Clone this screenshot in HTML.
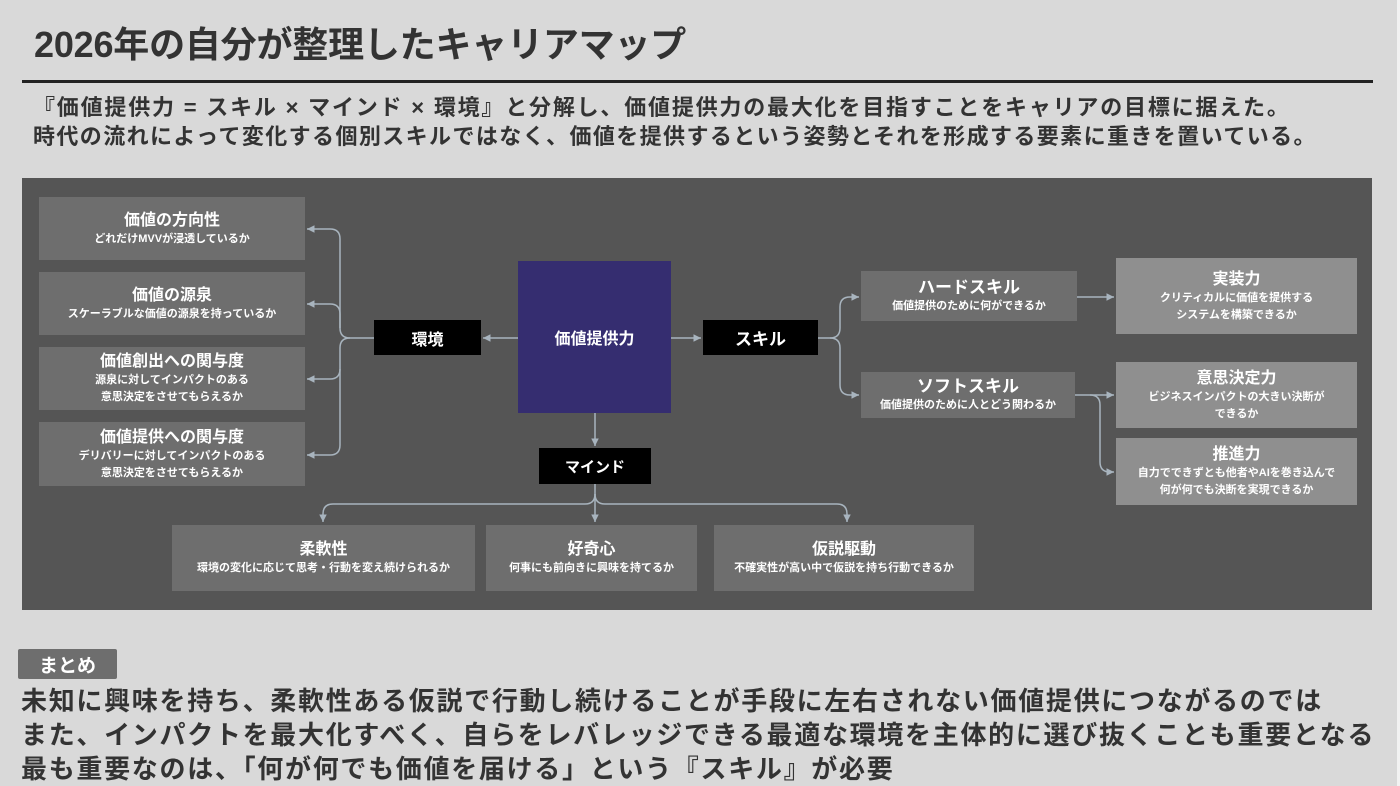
<!DOCTYPE html>
<html><head><meta charset="utf-8"><style>
*{margin:0;padding:0;box-sizing:border-box}
body{width:1400px;height:786px;background:#d9d9d9;position:relative;overflow:hidden;font-family:"Liberation Sans","Noto Sans CJK JP",sans-serif;color:#333;font-weight:bold}
.a{position:absolute}
.b{position:absolute;color:#fff;display:flex;flex-direction:column;align-items:center;justify-content:center;text-align:center;font-weight:bold}
.g{background:#6e6e6e}.l{background:#8f8f8f}.k{background:#000}
.t{font-size:16px;line-height:21px}.s{font-size:11px;line-height:17px}
</style></head><body>
<div class="a" style="left:1397px;top:0;width:3px;height:786px;background:#f2f2f2"></div>
<div class="a" style="left:34px;top:20px;font-size:36px;line-height:50px;letter-spacing:-0.2px">2026年の自分が整理したキャリアマップ</div>
<div class="a" style="left:22px;top:80px;width:1351px;height:3px;background:#222"></div>
<div class="a" style="left:33px;top:93px;font-size:22px;line-height:29px;white-space:nowrap;letter-spacing:1.8px">『価値提供力 = スキル × マインド × 環境』と分解し、価値提供力の最大化を目指すことをキャリアの目標に据えた。<br><span style="letter-spacing:1.4px">時代の流れによって変化する個別スキルではなく、価値を提供するという姿勢とそれを形成する要素に重きを置いている。</span></div>
<div class="a" style="left:22px;top:178px;width:1350px;height:432px;background:#555"></div>
<svg class="a" style="left:0;top:0" width="1400" height="786">
<defs><marker id="m" markerWidth="6" markerHeight="6" refX="5" refY="3" orient="auto"><path d="M0,0.5L5,3L0,5.5z" fill="#a8b4be"/></marker></defs>
<g stroke="#a8b4be" stroke-width="1.5" fill="none">
<path d="M374,338H350q-10,0 -10,-10V239q0,-10 -10,-10H307" marker-end="url(#m)"/>
<path d="M340,328V314q0,-10 -10,-10H307" marker-end="url(#m)"/>
<path d="M350,338q-10,0 -10,10V369q0,10 -10,10H307" marker-end="url(#m)"/>
<path d="M340,369V445q0,10 -10,10H307" marker-end="url(#m)"/>
<path d="M518,338H483" marker-end="url(#m)"/>
<path d="M671,338H701" marker-end="url(#m)"/>
<path d="M818,338H830q10,0 10,-10V307q0,-10 10,-10H859" marker-end="url(#m)"/>
<path d="M830,338q10,0 10,10V385q0,10 10,10H859" marker-end="url(#m)"/>
<path d="M1077,297H1114" marker-end="url(#m)"/>
<path d="M1075,395H1114" marker-end="url(#m)"/>
<path d="M1090,395q10,0 10,10V462q0,10 10,10H1114" marker-end="url(#m)"/>
<path d="M595,413V446" marker-end="url(#m)"/>
<path d="M595,484V522" marker-end="url(#m)"/>
<path d="M595,494q0,10 -10,10H333q-10,0 -10,10V522" marker-end="url(#m)"/>
<path d="M595,494q0,10 10,10H837q10,0 10,10V522" marker-end="url(#m)"/>
</g></svg>
<div class="b g" style="left:39px;top:197px;width:266px;height:63px"><div class="t">価値の方向性</div><div class="s">どれだけMVVが浸透しているか</div></div>
<div class="b g" style="left:39px;top:272px;width:266px;height:63px"><div class="t">価値の源泉</div><div class="s">スケーラブルな価値の源泉を持っているか</div></div>
<div class="b g" style="left:39px;top:347px;width:266px;height:63px"><div class="t">価値創出への関与度</div><div class="s">源泉に対してインパクトのある<br>意思決定をさせてもらえるか</div></div>
<div class="b g" style="left:39px;top:422px;width:266px;height:64px"><div class="t">価値提供への関与度</div><div class="s">デリバリーに対してインパクトのある<br>意思決定をさせてもらえるか</div></div>
<div class="b k" style="left:374px;top:320px;width:107px;height:35px;font-size:16px">環境</div>
<div class="b" style="left:518px;top:261px;width:153px;height:152px;background:#352d70;font-size:16px">価値提供力</div>
<div class="b k" style="left:703px;top:320px;width:115px;height:35px;font-size:17px">スキル</div>
<div class="b k" style="left:539px;top:448px;width:112px;height:36px;font-size:15px">マインド</div>
<div class="b g" style="left:861px;top:271px;width:216px;height:50px"><div class="t" style="font-size:17px">ハードスキル</div><div class="s">価値提供のために何ができるか</div></div>
<div class="b g" style="left:861px;top:372px;width:214px;height:46px"><div class="t" style="font-size:17px">ソフトスキル</div><div class="s">価値提供のために人とどう関わるか</div></div>
<div class="b l" style="left:1116px;top:258px;width:241px;height:76px"><div class="t">実装力</div><div class="s">クリティカルに価値を提供する<br>システムを構築できるか</div></div>
<div class="b l" style="left:1116px;top:362px;width:241px;height:66px"><div class="t">意思決定力</div><div class="s">ビジネスインパクトの大きい決断が<br>できるか</div></div>
<div class="b l" style="left:1116px;top:438px;width:241px;height:67px"><div class="t">推進力</div><div class="s">自力でできずとも他者やAIを巻き込んで<br>何が何でも決断を実現できるか</div></div>
<div class="b g" style="left:172px;top:525px;width:303px;height:66px"><div class="t">柔軟性</div><div class="s">環境の変化に応じて思考・行動を変え続けられるか</div></div>
<div class="b g" style="left:486px;top:525px;width:211px;height:66px"><div class="t">好奇心</div><div class="s">何事にも前向きに興味を持てるか</div></div>
<div class="b g" style="left:714px;top:525px;width:260px;height:66px"><div class="t">仮説駆動</div><div class="s">不確実性が高い中で仮説を持ち行動できるか</div></div>
<div class="b g" style="left:18px;top:649px;width:99px;height:30px;font-size:19px;border-radius:2px">まとめ</div>
<div class="a" style="left:21px;top:684px;font-size:26px;line-height:34px;white-space:nowrap;letter-spacing:1.7px">未知に興味を持ち、柔軟性ある仮説で行動し続けることが手段に左右されない価値提供につながるのでは<br>また、インパクトを最大化すべく、自らをレバレッジできる最適な環境を主体的に選び抜くことも重要となる<br>最も重要なのは、「何が何でも価値を届ける」という『スキル』が必要</div>
</body></html>
